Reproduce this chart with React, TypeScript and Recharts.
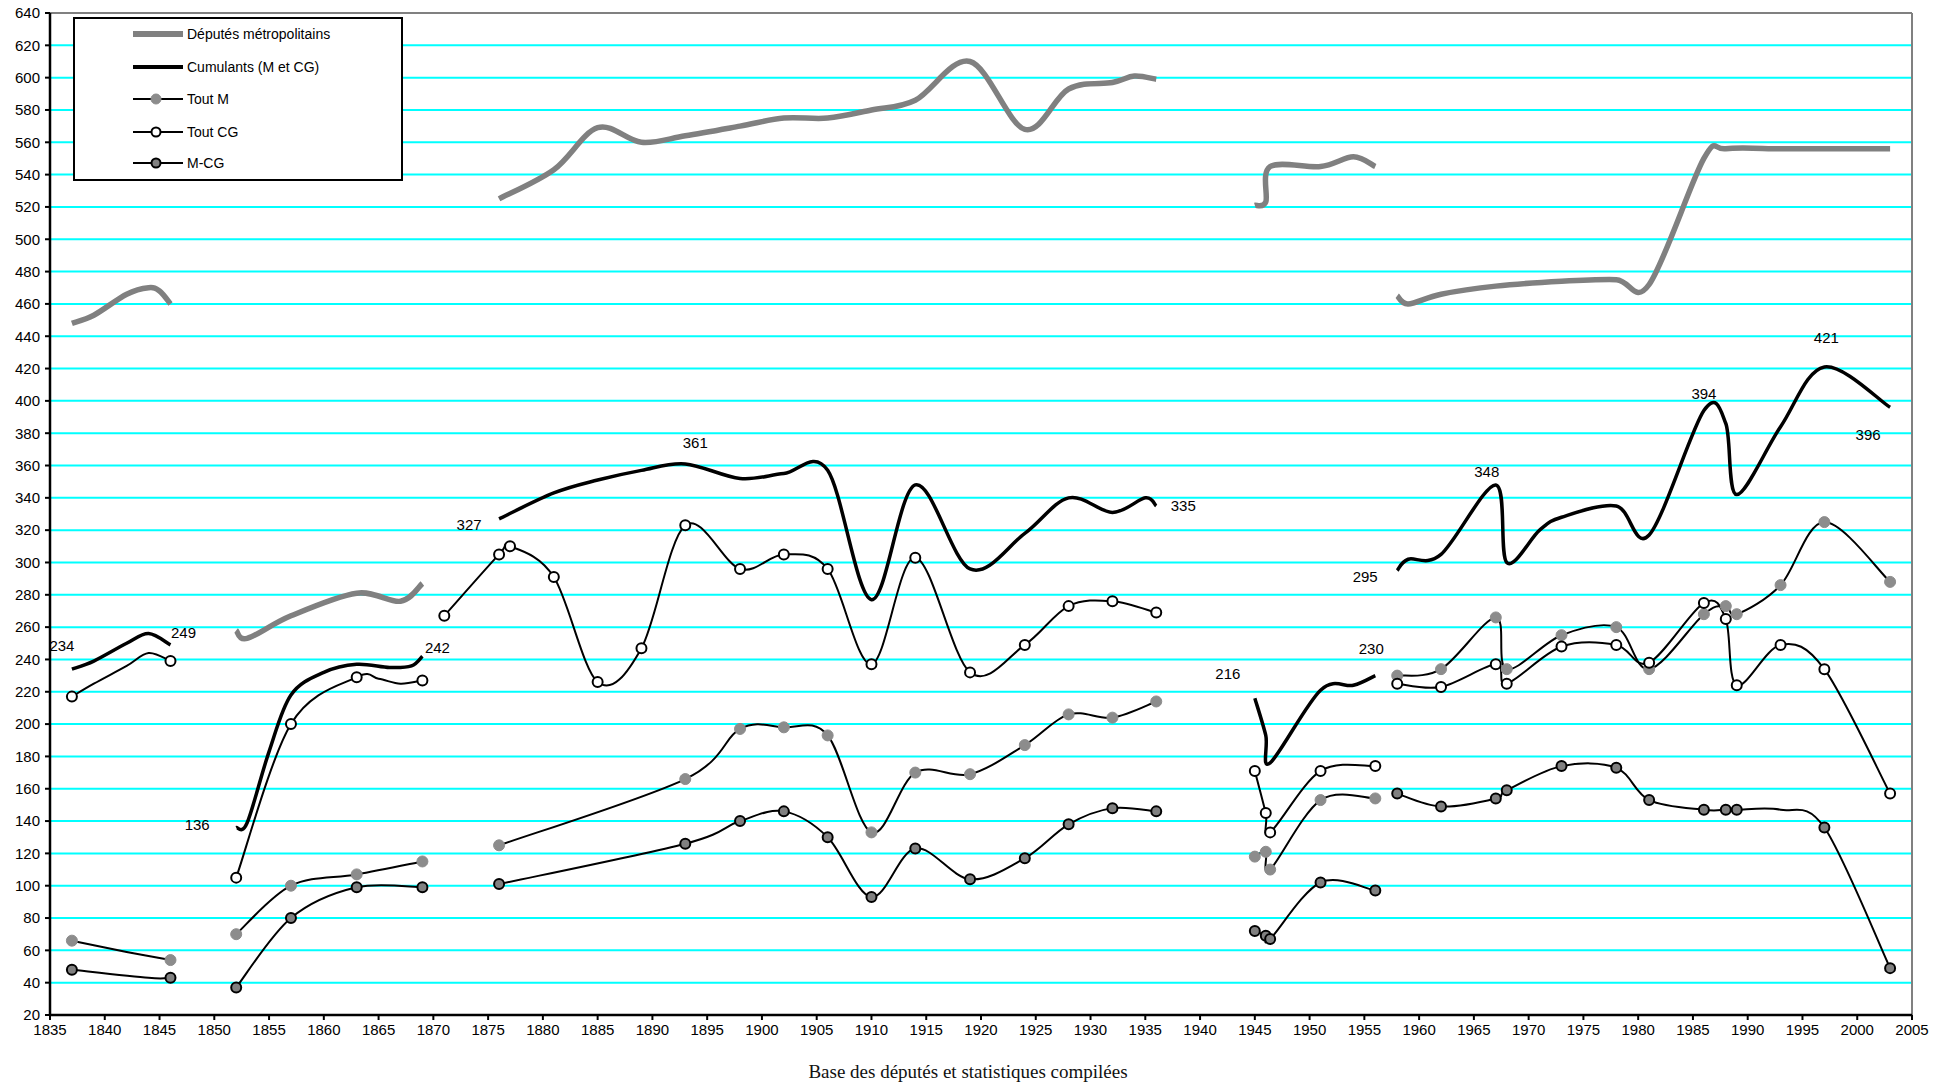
import React from 'react';
import { ComposedChart, Line, XAxis, YAxis, CartesianGrid, ReferenceLine, Label } from 'recharts';

type Pt = [number, number | null, number?];

const xTicks = [1835, 1840, 1845, 1850, 1855, 1860, 1865, 1870, 1875, 1880, 1885, 1890, 1895, 1900, 1905, 1910, 1915, 1920, 1925, 1930, 1935, 1940, 1945, 1950, 1955, 1960, 1965, 1970, 1975, 1980, 1985, 1990, 1995, 2000, 2005];
const yTicks = [20, 40, 60, 80, 100, 120, 140, 160, 180, 200, 220, 240, 260, 280, 300, 320, 340, 360, 380, 400, 420, 440, 460, 480, 500, 520, 540, 560, 580, 600, 620, 640];

const seriesNames = ['Députés métropolitains', 'Cumulants (M et CG)', 'Tout M', 'Tout CG', 'M-CG'];

const deputes: Pt[] = [
  [1837, 448], [1839, 453], [1842, 466], [1844, 470], [1845, 468], [1846, 460],
  [1849, null],
  [1852, 258], [1853, 253], [1857, 267], [1863, 281], [1867, 276], [1869, 287],
  [1870, null],
  [1876, 525], [1881, 543], [1885, 569], [1889, 560], [1893, 564], [1898, 570], [1902, 575], [1906, 575], [1910, 580], [1914, 586], [1919, 610], [1924, 568], [1928, 593], [1932, 597], [1934, 601], [1936, 599],
  [1940, null],
  [1945, 521], [1946, 523], [1946.4, 545], [1951, 545], [1954, 551], [1956, 545],
  [1957, null],
  [1958, 465], [1959, 460], [1962, 466], [1967, 471], [1973, 474], [1978, 475], [1981, 472], [1986, 550], [1988, 556], [1993, 556], [1997, 556], [2003, 556],
];

const cumulants: Pt[] = [
  [1837, 234], [1839, 239], [1842, 250], [1844, 256], [1846, 249],
  [1849, null],
  [1852, 136], [1853, 139], [1855, 183], [1857, 218], [1860, 232], [1863, 237], [1866, 235], [1868, 236], [1869, 242],
  [1870, null],
  [1876, 327], [1881, 343], [1885, 351], [1889, 357], [1893, 361], [1898, 352], [1902, 355], [1906, 357], [1910, 277], [1914, 348], [1919, 296], [1924, 318], [1928, 340], [1932, 331], [1935, 340], [1936, 335],
  [1940, null],
  [1945, 216], [1946, 193], [1946.4, 176], [1951, 221], [1954, 224], [1956, 230],
  [1957, null],
  [1958, 295], [1959, 302], [1962, 305], [1967, 348], [1968, 300], [1971, 320], [1973, 328], [1978, 335], [1981, 317], [1986, 394], [1988, 386], [1989, 342], [1993, 384], [1997, 421], [2003, 396],
];

const cumulantsLabelYears = [1837, 1846, 1852, 1869, 1876, 1893, 1936, 1945, 1956, 1958, 1967, 1986, 1997, 2003];

// third element 0 = curve point without marker
const toutM: Pt[] = [
  [1837, 66], [1842, 59, 0], [1846, 54],
  [1849, null],
  [1852, 70], [1857, 100], [1863, 107], [1869, 115],
  [1870, null],
  [1876, 125], [1893, 166], [1898, 197], [1902, 198], [1906, 193], [1910, 133], [1914, 170], [1919, 169], [1924, 187], [1928, 206], [1932, 204], [1936, 214],
  [1940, null],
  [1945, 118], [1946, 121], [1946.4, 110], [1951, 153], [1956, 154],
  [1957, null],
  [1958, 230], [1962, 234], [1967, 266], [1968, 234], [1973, 255], [1978, 260], [1981, 234], [1986, 268], [1988, 273], [1989, 268], [1993, 286], [1997, 325], [2003, 288],
];

const toutCG: Pt[] = [
  [1837, 217], [1839, 225, 0], [1842, 236, 0], [1844, 244, 0], [1846, 239],
  [1849, null],
  [1852, 105], [1857, 200], [1863, 229], [1865, 228, 0], [1867, 225, 0], [1869, 227],
  [1870, null],
  [1871, 267], [1876, 305], [1877, 310], [1881, 291], [1885, 226], [1889, 247], [1893, 323], [1898, 296], [1902, 305], [1906, 296], [1910, 237], [1914, 303], [1919, 232], [1924, 249], [1928, 273], [1932, 276], [1936, 269],
  [1940, null],
  [1945, 171], [1946, 145], [1946.4, 133], [1951, 171], [1956, 174],
  [1957, null],
  [1958, 225], [1962, 223], [1967, 237], [1968, 225], [1973, 248], [1978, 249], [1981, 238], [1986, 275], [1988, 265], [1989, 224], [1993, 249], [1997, 234], [2003, 157],
];

const mcg: Pt[] = [
  [1837, 48], [1844, 43, 0], [1846, 43],
  [1849, null],
  [1852, 37], [1857, 80], [1863, 99], [1869, 99],
  [1870, null],
  [1876, 101], [1893, 126], [1898, 140], [1902, 146], [1906, 130], [1910, 93], [1914, 123], [1919, 104], [1924, 117], [1928, 138], [1932, 148], [1936, 146],
  [1940, null],
  [1945, 72], [1946, 69], [1946.4, 67], [1951, 102], [1956, 97],
  [1957, null],
  [1958, 157], [1962, 149], [1967, 154], [1968, 159], [1973, 174], [1978, 173], [1981, 153], [1986, 147], [1988, 147], [1989, 147], [1993, 147, 0], [1997, 136], [2003, 49],
];

const toRows = (pts: Pt[]) => pts.map(([x, y, m]) => ({ x, y, mark: m !== 0 }));

// Excel-like smoothed line (Catmull-Rom bezier), applied to library-scaled points
function excelSmooth(context: any) {
  let xs: number[] = [];
  let ys: number[] = [];
  return {
    areaStart() {},
    areaEnd() {},
    lineStart() { xs = []; ys = []; },
    point(x: number, y: number) { xs.push(+x); ys.push(+y); },
    lineEnd() {
      const n = xs.length;
      if (!n) return;
      context.moveTo(xs[0], ys[0]);
      if (n === 1) { context.lineTo(xs[0], ys[0]); return; }
      for (let i = 0; i < n - 1; i++) {
        const i0 = Math.max(0, i - 1);
        const i3 = Math.min(n - 1, i + 2);
        const c1x = xs[i] + (xs[i + 1] - xs[i0]) / 6;
        const c1y = ys[i] + (ys[i + 1] - ys[i0]) / 6;
        const c2x = xs[i + 1] - (xs[i3] - xs[i]) / 6;
        const c2y = ys[i + 1] - (ys[i3] - ys[i]) / 6;
        context.bezierCurveTo(c1x, c1y, c2x, c2y, xs[i + 1], ys[i + 1]);
      }
    },
  };
}

const GRAY = '#808080';
const SANS = '"Liberation Sans", Arial, sans-serif';

const makeDot = (fill: string, stroke: string, r: number, sw: number) => (props: any) => {
  const { cx, cy, payload, index } = props;
  if (cx == null || cy == null || !payload || payload.y == null || !payload.mark) return <g key={`e${index}`} />;
  return <circle key={`d${index}`} cx={cx} cy={cy} r={r} fill={fill} stroke={stroke} strokeWidth={sw} />;
};

const labelOffsets: Record<string, [number, number]> = {
  '1837': [-10, -24], '1846': [13, -12], '1852': [-39, -3], '1869': [15, -9],
  '1876': [-30, 6], '1893': [10, -21], '1936': [27, 0], '1945': [-27, -25],
  '1956': [-4, -27], '1958': [-32, 6], '1967': [-9, -13], '1986': [0, -17],
  '1997': [2, -29], '2003': [-22, 27],
};

const cumulLabel = (props: any) => {
  const { cx, cy, payload, index } = props;
  if (cx == null || cy == null || !payload || payload.y == null || !cumulantsLabelYears.includes(payload.x)) return <g key={`e${index}`} />;
  const off = labelOffsets[String(payload.x)] || [0, -15];
  return (
    <text key={`l${index}`} x={cx + off[0]} y={cy + off[1]} textAnchor="middle" dominantBaseline="central" fontSize={15} fontFamily={SANS} fill="#000">
      {payload.y}
    </text>
  );
};

const LegendBox = () => {
  const rows = [17, 50, 82, 115, 146];
  return (
    <div style={{ position: 'absolute', left: 73, top: 17, width: 330, height: 164, border: '2px solid #000', background: '#fff', boxSizing: 'border-box' }}>
      <svg width={326} height={160} style={{ position: 'absolute', left: 0, top: 0 }}>
        <line x1={58} x2={108} y1={rows[0] - 2} y2={rows[0] - 2} stroke={GRAY} strokeWidth={6} />
        <line x1={58} x2={108} y1={rows[1] - 2} y2={rows[1] - 2} stroke="#000" strokeWidth={4} />
        <line x1={58} x2={108} y1={rows[2] - 2} y2={rows[2] - 2} stroke="#000" strokeWidth={2} />
        <circle cx={81} cy={rows[2] - 2} r={5} fill="#8c8c8c" stroke="#8c8c8c" strokeWidth={1} />
        <line x1={58} x2={108} y1={rows[3] - 2} y2={rows[3] - 2} stroke="#000" strokeWidth={2} />
        <circle cx={81} cy={rows[3] - 2} r={4.5} fill="#fff" stroke="#000" strokeWidth={2} />
        <line x1={58} x2={108} y1={rows[4] - 2} y2={rows[4] - 2} stroke="#000" strokeWidth={2} />
        <circle cx={81} cy={rows[4] - 2} r={4.5} fill={GRAY} stroke="#000" strokeWidth={2} />
        {seriesNames.map((n, i) => (
          <text key={n} x={112} y={rows[i] - 2} dominantBaseline="central" fontSize={14} fontFamily={SANS} fill="#000">{n}</text>
        ))}
      </svg>
    </div>
  );
};

export default function App() {
  return (
    <div style={{ position: 'absolute', left: 0, top: 0, width: 1953, height: 1083, background: '#fff' }}>
      <ComposedChart width={1953} height={1083} margin={{ top: 13, right: 41, bottom: 0, left: 0 }}>
        <CartesianGrid horizontal vertical={false} stroke="#00FFFF" strokeWidth={2} />
        <XAxis
          type="number"
          dataKey="x"
          domain={[1835, 2005]}
          ticks={xTicks}
          interval={0}
          allowDataOverflow
          height={68}
          tickSize={5}
          tickMargin={4}
          axisLine={{ stroke: '#000', strokeWidth: 2.5 }}
          tickLine={{ stroke: '#000', strokeWidth: 2 }}
          tick={{ fill: '#000', fontSize: 15, fontFamily: SANS }}
        >
          <Label
            value="Base des députés et statistiques compilées"
            position="insideBottom"
            offset={5}
            dx={-13}
            style={{ fontFamily: '"Liberation Serif", "Times New Roman", serif', fontSize: 19, fill: '#111' }}
          />
        </XAxis>
        <YAxis
          type="number"
          domain={[20, 640]}
          ticks={yTicks}
          interval={0}
          allowDataOverflow
          width={50}
          tickSize={5}
          tickMargin={5}
          axisLine={{ stroke: '#000', strokeWidth: 2.5 }}
          tickLine={{ stroke: '#000', strokeWidth: 2 }}
          tick={{ fill: '#000', fontSize: 15, fontFamily: SANS }}
        />
        <ReferenceLine y={640} stroke={GRAY} strokeWidth={2} />
        <ReferenceLine x={2005} stroke={GRAY} strokeWidth={2} />
        <Line data={toRows(deputes)} dataKey="y" name={seriesNames[0]} type={excelSmooth as any} stroke={GRAY} strokeWidth={5.5} dot={false} activeDot={false} connectNulls={false} isAnimationActive={false} />
        <Line data={toRows(cumulants)} dataKey="y" name={seriesNames[1]} type={excelSmooth as any} stroke="#000" strokeWidth={3.5} dot={cumulLabel} activeDot={false} connectNulls={false} isAnimationActive={false} />
        <Line data={toRows(toutM)} dataKey="y" name={seriesNames[2]} type={excelSmooth as any} stroke="#000" strokeWidth={2} dot={makeDot('#8c8c8c', '#8c8c8c', 5.5, 1)} activeDot={false} connectNulls={false} isAnimationActive={false} />
        <Line data={toRows(toutCG)} dataKey="y" name={seriesNames[3]} type={excelSmooth as any} stroke="#000" strokeWidth={2} dot={makeDot('#fff', '#000', 5, 2)} activeDot={false} connectNulls={false} isAnimationActive={false} />
        <Line data={toRows(mcg)} dataKey="y" name={seriesNames[4]} type={excelSmooth as any} stroke="#000" strokeWidth={2} dot={makeDot(GRAY, '#000', 5, 2)} activeDot={false} connectNulls={false} isAnimationActive={false} />
      </ComposedChart>
      <LegendBox />
    </div>
  );
}
